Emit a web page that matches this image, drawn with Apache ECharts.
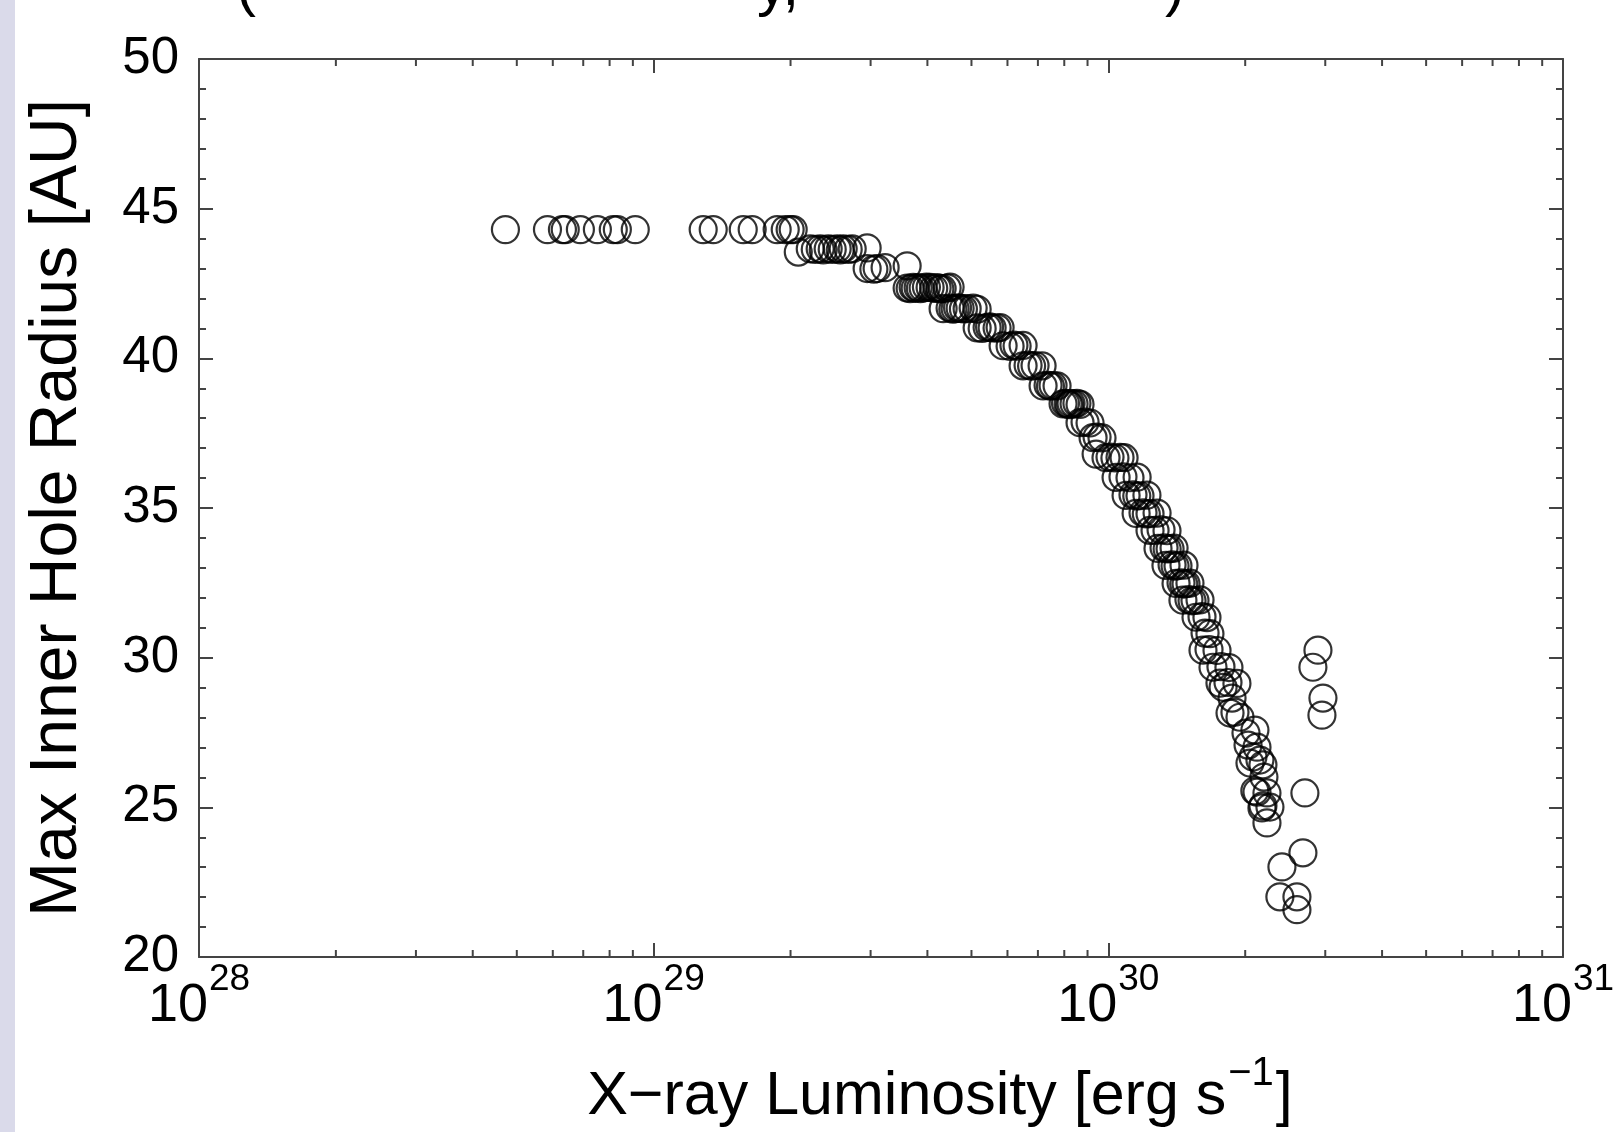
<!DOCTYPE html>
<html>
<head>
<meta charset="utf-8">
<title>Max inner hole radius vs X-ray luminosity</title>
<script src="https://cdn.jsdelivr.net/npm/echarts@6.0.0/dist/echarts.min.js"></script>
<style>
	html, body { margin: 0; padding: 0; background: #fff; }
	#main { width: 1621px; height: 1132px; }
</style>
</head>
<body>
<div id="main"></div>
<script>
// flat part of the curve (radius stays at its maximum)
const plateauLum = [4.72e28, 5.84e28, 6.30e28, 6.39e28, 6.90e28, 7.52e28, 8.15e28, 8.32e28, 9.11e28,
	1.285e29, 1.352e29, 1.574e29, 1.647e29, 1.869e29, 1.947e29, 1.996e29, 2.027e29];
const plateauRad = [44.3, 44.3, 44.3, 44.3, 44.3, 44.3, 44.3, 44.3, 44.3,
	44.3, 44.3, 44.3, 44.3, 44.3, 44.3, 44.3, 44.3];

// knee, 2e29 - 6e29
const kneeLum = [2.08e29, 2.21e29, 2.267e29, 2.324e29, 2.36e29, 2.42e29, 2.47e29, 2.533e29, 2.572e29, 2.611e29, 2.678e29, 2.733e29, 2.948e29,
	2.948e29, 3.05e29, 3.101e29, 3.229e29, 3.61e29,
	3.61e29, 3.665e29, 3.721e29, 3.76e29, 3.816e29, 3.86e29, 3.914e29, 3.98e29, 4.055e29, 4.13e29, 4.202e29, 4.26e29, 4.31e29, 4.42e29, 4.487e29,
	4.331e29, 4.487e29, 4.55e29, 4.603e29, 4.66e29, 4.721e29, 4.80e29, 4.892e29, 5.043e29, 5.146e29,
	5.146e29, 5.278e29, 5.413e29, 5.48e29, 5.551e29, 5.693e29, 5.78e29];
const kneeRad = [43.55, 43.66, 43.64, 43.66, 43.62, 43.66, 43.64, 43.66, 43.62, 43.66, 43.64, 43.66, 43.69,
	43.0, 42.98, 43.0, 43.03, 43.09,
	42.35, 42.33, 42.37, 42.34, 42.36, 42.33, 42.35, 42.38, 42.37, 42.34, 42.36, 42.32, 42.33, 42.35, 42.38,
	41.66, 41.68, 41.64, 41.66, 41.69, 41.67, 41.65, 41.66, 41.68, 41.64,
	41.02, 41.0, 41.03, 41.05, 41.02, 41.01, 41.03];

// steep fall, 6e29 - 1.9e30
const curveLum = [5.869e29, 6.08e29, 6.20e29, 6.30e29, 6.494e29,
	6.494e29, 6.66e29, 6.78e29, 6.90e29, 7.15e29,
	7.186e29, 7.37e29, 7.46e29, 7.558e29, 7.713e29,
	7.951e29, 8.05e29, 8.155e29, 8.22e29, 8.28e29, 8.406e29, 8.53e29, 8.665e29,
	8.665e29, 8.888e29, 9.116e29,
	9.256e29, 9.445e29, 9.685e29,
	9.40e29, 9.883e29, 1.0086e30, 1.034e30, 1.061e30, 1.083e30,
	1.04e30, 1.077e30, 1.116e30, 1.157e30,
	1.094e30, 1.133e30, 1.155e30, 1.174e30, 1.216e30,
	1.151e30, 1.192e30, 1.212e30, 1.235e30, 1.28e30,
	1.235e30, 1.267e30, 1.306e30, 1.346e30,
	1.286e30, 1.326e30, 1.347e30, 1.367e30, 1.395e30,
	1.339e30, 1.381e30, 1.402e30, 1.423e30, 1.467e30,
	1.409e30, 1.445e30, 1.465e30, 1.482e30, 1.512e30,
	1.459e30, 1.504e30, 1.528e30, 1.551e30, 1.591e30,
	1.559e30, 1.607e30, 1.648e30,
	1.632e30, 1.673e30,
	1.615e30, 1.665e30, 1.734e30,
	1.699e30, 1.769e30, 1.842e30,
	1.76e30, 1.833e30, 1.918e30];
const curveRad = [40.42, 40.4, 40.44, 40.41, 40.43,
	39.75, 39.77, 39.74, 39.76, 39.75,
	39.08, 39.1, 39.07, 39.09, 39.08,
	38.48, 38.5, 38.47, 38.45, 38.49, 38.48, 38.5, 38.46,
	37.85, 37.87, 37.84,
	37.35, 37.37, 37.34,
	36.8, 36.68, 36.7, 36.67, 36.69, 36.68,
	36.02, 36.04, 36.01, 36.03,
	35.42, 35.44, 35.4, 35.41, 35.43,
	34.82, 34.84, 34.8, 34.81, 34.83,
	34.25, 34.25, 34.27, 34.24,
	33.65, 33.67, 33.63, 33.64, 33.66,
	33.08, 33.1, 33.06, 33.07, 33.09,
	32.48, 32.5, 32.46, 32.47, 32.49,
	31.92, 31.94, 31.9, 31.91, 31.93,
	31.35, 31.37, 31.34,
	30.82, 30.8,
	30.25, 30.27, 30.24,
	29.68, 29.7, 29.67,
	29.15, 29.17, 29.14];

// bottom end of the main branch
const tailLum = [1.788e30, 1.871e30, 1.899e30, 1.852e30, 1.948e30, 2.101e30, 2.008e30, 2.029e30, 2.123e30,
	2.08e30, 2.155e30, 2.188e30, 2.049e30, 2.199e30, 2.123e30, 2.233e30, 2.10e30, 2.267e30, 2.177e30, 2.188e30, 2.233e30];
const tailRad = [29.01, 28.65, 28.18, 28.15, 28.01, 27.58, 27.48, 27.08, 27.01,
	26.68, 26.58, 26.42, 26.48, 26.01, 25.51, 25.48, 25.55, 25.01, 24.98, 25.05, 24.48];

// points right of the main branch
const outlierLum = [2.891e30, 2.818e30, 2.965e30, 2.95e30, 2.706e30, 2.679e30, 2.409e30, 2.384e30, 2.599e30, 2.599e30];
const outlierRad = [30.25, 29.68, 28.65, 28.08, 25.48, 23.48, 23.01, 22.01, 22.01, 21.58];

// axes
const xDecades = [28, 29, 30, 31];
const xMinorTicks = [2e28, 3e28, 4e28, 5e28, 6e28, 7e28, 8e28, 9e28,
	2e29, 3e29, 4e29, 5e29, 6e29, 7e29, 8e29, 9e29,
	2e30, 3e30, 4e30, 5e30, 6e30, 7e30, 8e30, 9e30];
const yMin = 20, yMax = 50, yStep = 5;

const FONT = "'Liberation Sans', Arial, Helvetica, sans-serif";
const AXIS = '#444';

function pairs(lum, rad) {
	return lum.map((v, i) => [v, rad[i]]);
}
const points = [].concat(
	pairs(plateauLum, plateauRad),
	pairs(kneeLum, kneeRad),
	pairs(curveLum, curveRad),
	pairs(tailLum, tailRad),
	pairs(outlierLum, outlierRad)
);

const chart = echarts.init(document.getElementById('main'), null, { renderer: 'canvas' });

const lineStyle = { color: AXIS, width: 2 };

function xAxis(pos, withLabels) {
	const ax = {
		type: 'log',
		logBase: 10,
		min: Math.pow(10, xDecades[0]),
		max: Math.pow(10, xDecades[xDecades.length - 1]),
		position: pos,
		axisLine: { show: true, onZero: false, lineStyle: lineStyle },
		axisTick: { show: true, inside: true, length: 14, lineStyle: lineStyle },
		minorTick: { show: false },
		splitLine: { show: false },
		axisLabel: { show: false }
	};
	if ( withLabels ) {
		ax.axisLabel = {
			show: true,
			margin: 22,
			showMinLabel: true,
			showMaxLabel: true,
			formatter: function (v) {
				return '{b|10}{s|' + Math.round(Math.log10(v)) + '}';
			},
			rich: {
				b: { fontFamily: FONT, fontSize: 54, color: '#000', lineHeight: 54, verticalAlign: 'bottom' },
				s: { fontFamily: FONT, fontSize: 37, color: '#000', lineHeight: 37, padding: [0, 0, 35, 1], verticalAlign: 'bottom' }
			}
		};
		ax.name = '{t|X\u2212ray Luminosity [erg s}{s|\u22121}{t|]}';
		ax.nameLocation = 'middle';
		ax.nameGap = 110;
		ax.nameTextStyle = {
			padding: [0, 0, 0, 118],
			rich: {
				t: { fontFamily: FONT, fontSize: 61, color: '#000', lineHeight: 61, verticalAlign: 'bottom' },
				s: { fontFamily: FONT, fontSize: 40, color: '#000', lineHeight: 40, padding: [0, 2, 34, 2], verticalAlign: 'bottom' }
			}
		};
	}
	return ax;
}

function yAxis(pos, withLabels) {
	const ax = {
		type: 'value',
		min: yMin,
		max: yMax,
		interval: yStep,
		position: pos,
		axisLine: { show: true, onZero: false, lineStyle: lineStyle },
		axisTick: { show: true, inside: true, length: 14, lineStyle: lineStyle },
		minorTick: { show: true, splitNumber: 5, length: 7, lineStyle: lineStyle },
		splitLine: { show: false },
		axisLabel: { show: false }
	};
	if ( withLabels ) {
		ax.axisLabel = { show: true, margin: 20, color: '#000', fontFamily: FONT, fontSize: 51 };
		ax.name = 'Max Inner Hole Radius [AU]';
		ax.nameLocation = 'middle';
		ax.nameGap = 108;
		ax.nameTextStyle = { fontFamily: FONT, fontSize: 66, color: '#000' };
	}
	return ax;
}

// cropped caption above the plot: only the lower ends of a few glyphs show
const captionBits = [
	{ text: '(', x: 236 },
	{ text: 'y,', x: 757 },
	{ text: ')', x: 1165 }
];

const option = {
	animation: false,
	backgroundColor: '#fff',
	grid: { left: 199, right: 58, top: 59, bottom: 175, containLabel: false, outerBoundsMode: 'none' },
	xAxis: [ xAxis('bottom', true), xAxis('top', false) ],
	yAxis: [ yAxis('left', true), yAxis('right', false) ],
	series: [
		{
			name: 'models',
			type: 'scatter',
			data: points,
			symbol: 'circle',
			symbolSize: 27,
			silent: true,
			itemStyle: {
				color: 'rgba(0,0,0,0)',
				borderColor: '#000',
				borderWidth: 2.2
			}
		},
		{
			// log minor ticks 2..9 on bottom and top frame
			type: 'custom',
			silent: true,
			clip: false,
			z: 3,
			data: xMinorTicks.map(v => [v, yMin]),
			renderItem: function (params, api) {
				const lo = api.coord([api.value(0), yMin]);
				const hi = api.coord([api.value(0), yMax]);
				const st = { stroke: AXIS, lineWidth: 2 };
				return {
					type: 'group',
					children: [
						{ type: 'line', shape: { x1: lo[0], y1: lo[1], x2: lo[0], y2: lo[1] - 7 }, style: st },
						{ type: 'line', shape: { x1: hi[0], y1: hi[1], x2: hi[0], y2: hi[1] + 7 }, style: st }
					]
				};
			}
		}
	],
	graphic: [
		{ type: 'rect', left: 0, top: 0, shape: { width: 15, height: 1132 }, style: { fill: '#dadaea' }, silent: true }
	].concat(captionBits.map(c => ({
		type: 'text',
		x: c.x,
		y: -42,
		silent: true,
		style: { text: c.text, font: '60px ' + FONT, fill: '#000', align: 'left', verticalAlign: 'top' }
	})))
};

chart.setOption(option);
</script>
</body>
</html>
